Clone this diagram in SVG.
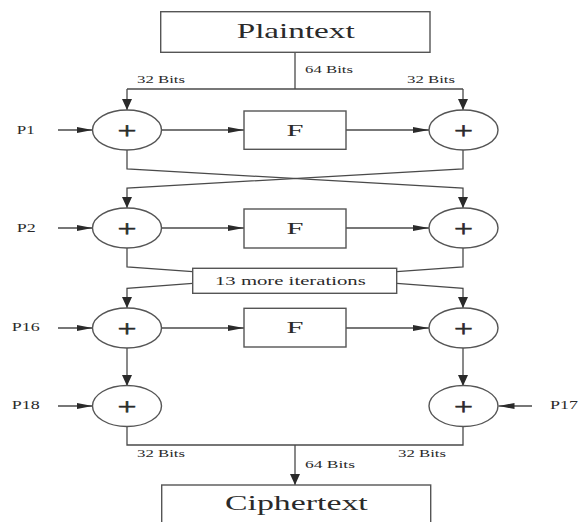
<svg xmlns="http://www.w3.org/2000/svg" width="579" height="522" viewBox="0 0 579 522">
  <style>
    .box { fill: #ffffff; stroke: #555555; stroke-width: 1.4; }
    .xor { fill: #ffffff; stroke: #555555; stroke-width: 1.4; }
    .wire { fill: none; stroke: #4a4a4a; stroke-width: 1.3; }
    .lbl { font-family: "Liberation Serif", "DejaVu Serif", serif; fill: #2a2a2a; }
    .big { font-size: 21px; }
    .f { font-size: 17px; }
    .bits { font-size: 11px; }
    .p { font-size: 11.5px; }
    .plus { font-size: 24px; stroke: #2a2a2a; stroke-width: 0.5; text-anchor: middle; }
  </style>
  <defs>
    <!-- horizontal arrowhead: long and slim -->
    <marker id="ah" markerUnits="userSpaceOnUse" markerWidth="16" markerHeight="6" refX="16" refY="3" orient="auto" viewBox="0 0 16 6">
      <path d="M0,0 L16,3 L0,6 z" fill="#2a2a2a"/>
    </marker>
    <!-- vertical arrowhead: short and broad -->
    <marker id="av" markerUnits="userSpaceOnUse" markerWidth="11" markerHeight="10" refX="11" refY="5" orient="auto" viewBox="0 0 11 10">
      <path d="M0,0 L11,5 L0,10 z" fill="#2a2a2a"/>
    </marker>
  </defs>

  <rect width="579" height="522" fill="#ffffff"/>

  <!-- connectors -->
  <g id="connectors" class="wire">
    <!-- plaintext split -->
    <path d="M295,52 V89"/>
    <path d="M127,89 H463"/>
    <path d="M127,89 V110" marker-end="url(#av)"/>
    <path d="M463,89 V110" marker-end="url(#av)"/>
    <!-- round 1 -->
    <path d="M58,130 H92.5" marker-end="url(#ah)"/>
    <path d="M161.5,130 H244" marker-end="url(#ah)"/>
    <path d="M346,130 H429" marker-end="url(#ah)"/>
    <!-- swap -->
    <path d="M127,150 V169 L463,188 V208" marker-end="url(#av)"/>
    <path d="M463,150 V169 L127,188 V208" marker-end="url(#av)"/>
    <!-- round 2 -->
    <path d="M58,228 H92.5" marker-end="url(#ah)"/>
    <path d="M161.5,228 H244" marker-end="url(#ah)"/>
    <path d="M346,228 H429" marker-end="url(#ah)"/>
    <!-- into / out of the remaining rounds -->
    <path d="M127,248 V267 L192.7,271.7"/>
    <path d="M463,248 V267 L396.7,271.7"/>
    <path d="M192.7,283.3 L127,288.3 V308" marker-end="url(#av)"/>
    <path d="M396.7,283.3 L463,288.3 V308" marker-end="url(#av)"/>
    <!-- round 16 -->
    <path d="M58,328 H92.5" marker-end="url(#ah)"/>
    <path d="M161.5,328 H244" marker-end="url(#ah)"/>
    <path d="M346,328 H429" marker-end="url(#ah)"/>
    <path d="M127,348 V386" marker-end="url(#av)"/>
    <path d="M463,348 V386" marker-end="url(#av)"/>
    <!-- final whitening -->
    <path d="M58,406 H92.5" marker-end="url(#ah)"/>
    <path d="M532,406 H498.5" marker-end="url(#ah)"/>
    <!-- recombine -->
    <path d="M127,426 V445 H463 V426"/>
    <path d="M295,445 V485" marker-end="url(#av)"/>
  </g>

  <!-- bit-width labels -->
  <g id="bit-labels" class="lbl bits">
    <text x="305" y="72.5" textLength="48" lengthAdjust="spacingAndGlyphs">64 Bits</text>
    <text x="137" y="82.5" textLength="48" lengthAdjust="spacingAndGlyphs">32 Bits</text>
    <text x="407" y="82.5" textLength="48" lengthAdjust="spacingAndGlyphs">32 Bits</text>
    <text x="137" y="457" textLength="48" lengthAdjust="spacingAndGlyphs">32 Bits</text>
    <text x="398" y="457" textLength="48" lengthAdjust="spacingAndGlyphs">32 Bits</text>
    <text x="305" y="468" textLength="50" lengthAdjust="spacingAndGlyphs">64 Bits</text>
  </g>

  <!-- subkey labels -->
  <g id="subkeys" class="lbl p">
    <text x="16.7" y="134" textLength="18" lengthAdjust="spacingAndGlyphs">P1</text>
    <text x="16.7" y="232" textLength="19" lengthAdjust="spacingAndGlyphs">P2</text>
    <text x="11.7" y="331" textLength="28" lengthAdjust="spacingAndGlyphs">P16</text>
    <text x="11.7" y="409" textLength="28" lengthAdjust="spacingAndGlyphs">P18</text>
    <text x="550" y="409" textLength="28" lengthAdjust="spacingAndGlyphs">P17</text>
  </g>

  <g id="plaintext">
    <rect class="box" x="160.7" y="11.7" width="269.3" height="40.6"/>
    <text class="lbl big" x="236.7" y="37.5" textLength="118" lengthAdjust="spacingAndGlyphs">Plaintext</text>
  </g>

  <g id="xor-1l"><ellipse class="xor" cx="127" cy="130" rx="34.5" ry="20"/><text class="lbl plus" x="127" y="137.5" textLength="19" lengthAdjust="spacingAndGlyphs">+</text></g>
  <g id="f-1"><rect class="box" x="244" y="111" width="102" height="38.3"/><text class="lbl f" x="286.5" y="135.5" textLength="17" lengthAdjust="spacingAndGlyphs">F</text></g>
  <g id="xor-1r"><ellipse class="xor" cx="463.5" cy="130" rx="34.5" ry="20"/><text class="lbl plus" x="463.5" y="137.5" textLength="19" lengthAdjust="spacingAndGlyphs">+</text></g>

  <g id="xor-2l"><ellipse class="xor" cx="127" cy="228" rx="34.5" ry="20"/><text class="lbl plus" x="127" y="235.5" textLength="19" lengthAdjust="spacingAndGlyphs">+</text></g>
  <g id="f-2"><rect class="box" x="244" y="209" width="102" height="39"/><text class="lbl f" x="286.5" y="234" textLength="17" lengthAdjust="spacingAndGlyphs">F</text></g>
  <g id="xor-2r"><ellipse class="xor" cx="463.5" cy="228" rx="34.5" ry="20"/><text class="lbl plus" x="463.5" y="235.5" textLength="19" lengthAdjust="spacingAndGlyphs">+</text></g>

  <g id="more-rounds">
    <rect class="box" x="192.7" y="268.3" width="204" height="25"/>
    <text class="lbl" style="font-size:12.5px" x="215" y="285" textLength="150.7" lengthAdjust="spacingAndGlyphs">13 more iterations</text>
  </g>

  <g id="xor-16l"><ellipse class="xor" cx="127" cy="328" rx="34.5" ry="20"/><text class="lbl plus" x="127" y="335.5" textLength="19" lengthAdjust="spacingAndGlyphs">+</text></g>
  <g id="f-16"><rect class="box" x="244" y="308.3" width="102" height="38.7"/><text class="lbl f" x="286.5" y="333" textLength="17" lengthAdjust="spacingAndGlyphs">F</text></g>
  <g id="xor-16r"><ellipse class="xor" cx="463.5" cy="328" rx="34.5" ry="20"/><text class="lbl plus" x="463.5" y="335.5" textLength="19" lengthAdjust="spacingAndGlyphs">+</text></g>

  <g id="xor-18"><ellipse class="xor" cx="127" cy="406" rx="34.5" ry="20.5"/><text class="lbl plus" x="127" y="413.5" textLength="19" lengthAdjust="spacingAndGlyphs">+</text></g>
  <g id="xor-17"><ellipse class="xor" cx="463.5" cy="406" rx="34.5" ry="20.5"/><text class="lbl plus" x="463.5" y="413.5" textLength="19" lengthAdjust="spacingAndGlyphs">+</text></g>

  <g id="ciphertext">
    <rect class="box" x="161.7" y="485" width="269" height="50"/>
    <text class="lbl big" x="225" y="510" textLength="142.7" lengthAdjust="spacingAndGlyphs">Ciphertext</text>
  </g>
</svg>
